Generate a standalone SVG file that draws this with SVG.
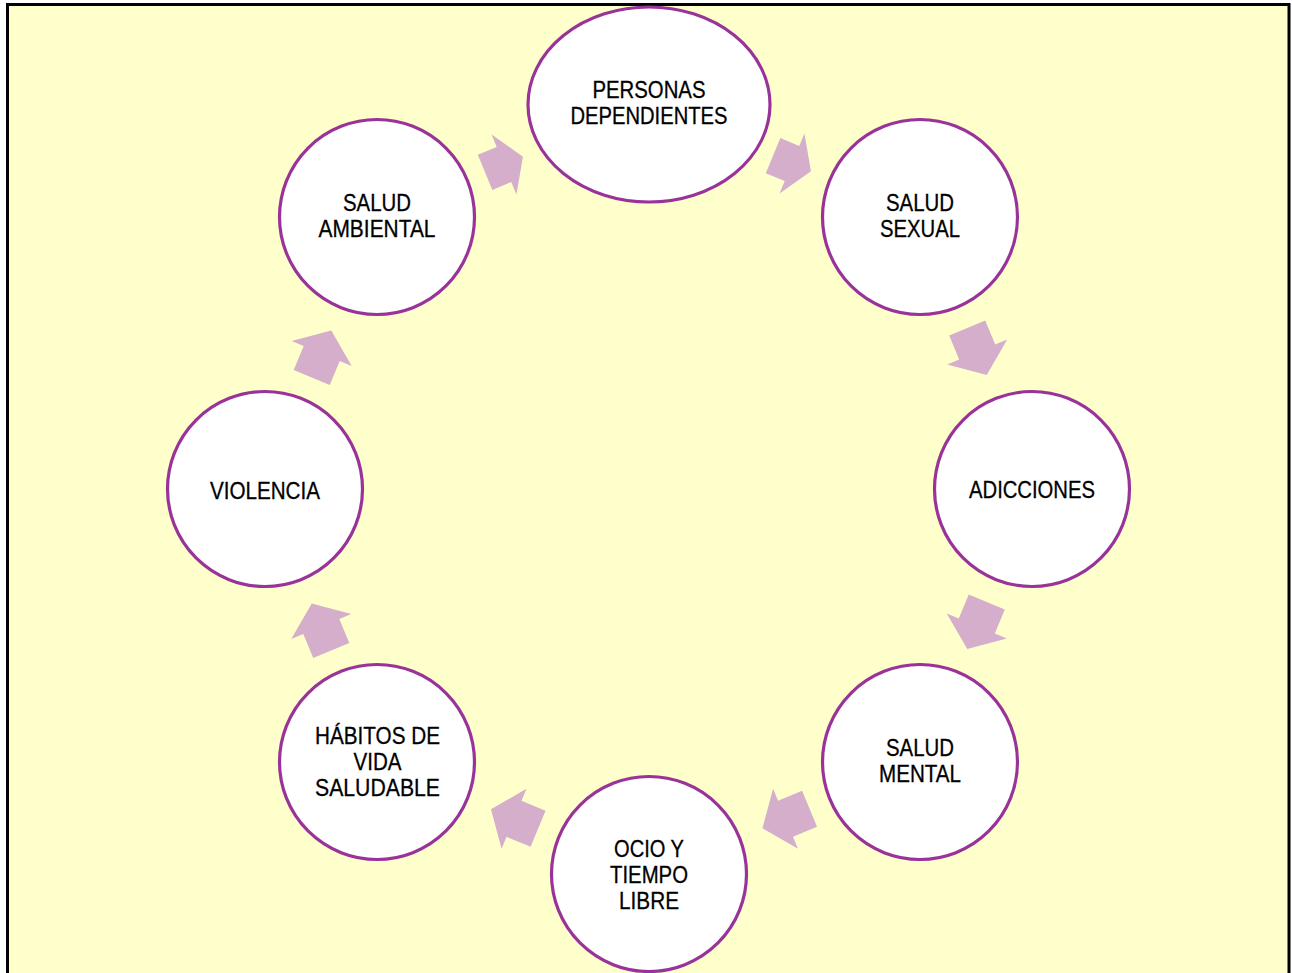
<svg xmlns="http://www.w3.org/2000/svg" xmlns:xlink="http://www.w3.org/1999/xlink" width="1292" height="973" viewBox="0 0 1292 973">
<style>
.bg{fill:#FFFFCC;stroke:#000;stroke-width:3}
.node{fill:#FFFFFF;stroke:#993399;stroke-width:3.2}
.arrow{fill:#D4AECA;stroke:none}
.lbl{font-family:"Liberation Sans",Arial,sans-serif;font-size:24px;fill:#000;stroke:#000;stroke-width:0.3;text-anchor:middle}
</style>
<defs>
<polygon id="arrowL" points="-25.5,-19.5 0.5,-19.5 0.5,-32.5 25.5,0 0.5,32.5 0.5,19.5 -25.5,19.5"/>
<polygon id="arrowS" points="-20.5,-19 0,-19 0,-32.5 20.5,0 0,32.5 0,19 -20.5,19"/>
</defs>
<rect x="0" y="0" width="1292" height="973" fill="#FFFFFF"/>
<rect class="bg" x="7.5" y="4.5" width="1281.5" height="990"/>
<g id="connectors">
<use class="arrow" xlink:href="#arrowS" href="#arrowS" transform="translate(504,164.5) rotate(-22.5)"/>
<use class="arrow" xlink:href="#arrowS" href="#arrowS" transform="translate(792,163.5) rotate(22.5)"/>
<use class="arrow" xlink:href="#arrowL" href="#arrowL" transform="translate(977,351.5) rotate(67.5)"/>
<use class="arrow" xlink:href="#arrowL" href="#arrowL" transform="translate(977,625.5) rotate(112.5)"/>
<use class="arrow" xlink:href="#arrowL" href="#arrowL" transform="translate(786,818.5) rotate(157.5)"/>
<use class="arrow" xlink:href="#arrowL" href="#arrowL" transform="translate(514.5,819) rotate(202.5)"/>
<use class="arrow" xlink:href="#arrowL" href="#arrowL" transform="translate(321.5,627) rotate(247.5)"/>
<use class="arrow" xlink:href="#arrowL" href="#arrowL" transform="translate(321.5,354) rotate(292.5)"/>
</g>
<g id="personas">
<ellipse class="node" cx="649" cy="104.5" rx="121" ry="97.5"/>
<text class="lbl" x="649" y="98" textLength="113" lengthAdjust="spacingAndGlyphs">PERSONAS</text>
<text class="lbl" x="649" y="124" textLength="157" lengthAdjust="spacingAndGlyphs">DEPENDIENTES</text>
</g>
<g id="salud-sexual">
<circle class="node" cx="920" cy="217" r="97.5"/>
<text class="lbl" x="920" y="211" textLength="68" lengthAdjust="spacingAndGlyphs">SALUD</text>
<text class="lbl" x="920" y="236.5" textLength="80" lengthAdjust="spacingAndGlyphs">SEXUAL</text>
</g>
<g id="adicciones">
<circle class="node" cx="1032" cy="489" r="97.5"/>
<text class="lbl" x="1032" y="498" textLength="126" lengthAdjust="spacingAndGlyphs">ADICCIONES</text>
</g>
<g id="salud-mental">
<circle class="node" cx="920" cy="762" r="97.5"/>
<text class="lbl" x="920" y="756" textLength="68" lengthAdjust="spacingAndGlyphs">SALUD</text>
<text class="lbl" x="920" y="781.5" textLength="82" lengthAdjust="spacingAndGlyphs">MENTAL</text>
</g>
<g id="ocio">
<circle class="node" cx="649" cy="874" r="97.5"/>
<text class="lbl" x="649" y="856.5" textLength="70" lengthAdjust="spacingAndGlyphs">OCIO Y</text>
<text class="lbl" x="649" y="882.5" textLength="78" lengthAdjust="spacingAndGlyphs">TIEMPO</text>
<text class="lbl" x="649" y="908.5" textLength="60" lengthAdjust="spacingAndGlyphs">LIBRE</text>
</g>
<g id="habitos">
<circle class="node" cx="377" cy="762" r="97.5"/>
<text class="lbl" x="377.5" y="744" textLength="125" lengthAdjust="spacingAndGlyphs">HÁBITOS DE</text>
<text class="lbl" x="377.5" y="770" textLength="48" lengthAdjust="spacingAndGlyphs">VIDA</text>
<text class="lbl" x="377.5" y="796" textLength="125" lengthAdjust="spacingAndGlyphs">SALUDABLE</text>
</g>
<g id="violencia">
<circle class="node" cx="265" cy="489" r="97.5"/>
<text class="lbl" x="265" y="498.5" textLength="110" lengthAdjust="spacingAndGlyphs">VIOLENCIA</text>
</g>
<g id="salud-ambiental">
<circle class="node" cx="377" cy="217" r="97.5"/>
<text class="lbl" x="377" y="211" textLength="68" lengthAdjust="spacingAndGlyphs">SALUD</text>
<text class="lbl" x="377" y="236.5" textLength="117" lengthAdjust="spacingAndGlyphs">AMBIENTAL</text>
</g>
</svg>
